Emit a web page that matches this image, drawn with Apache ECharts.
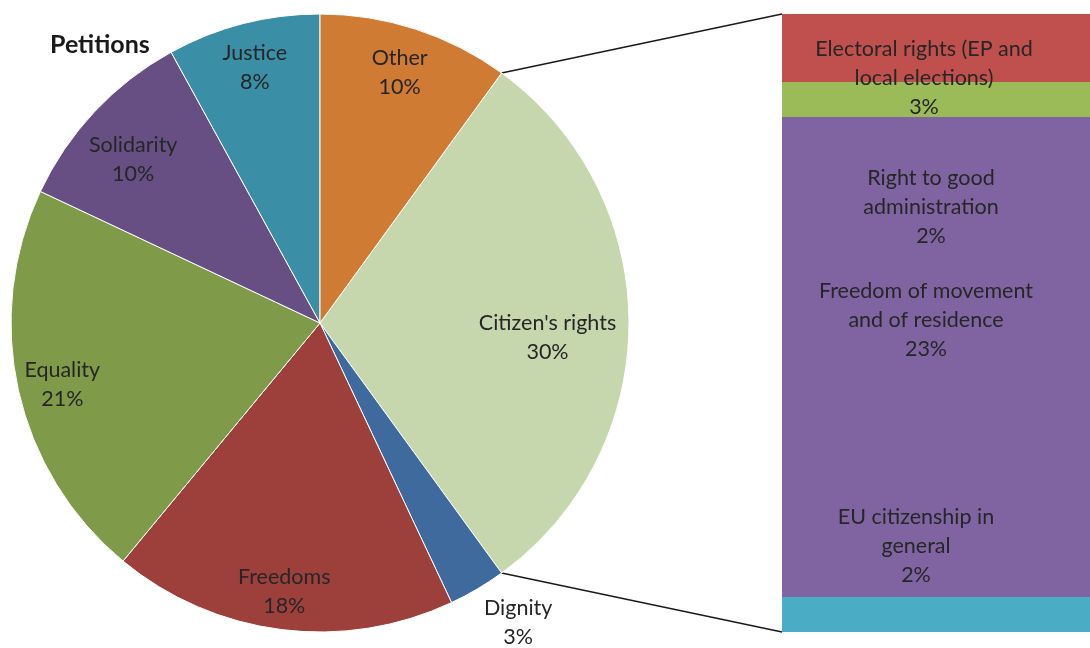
<!DOCTYPE html>
<html>
<head>
<meta charset="utf-8">
<script src="https://cdn.jsdelivr.net/npm/echarts@6/dist/echarts.min.js"></script>
<style>
html,body{margin:0;padding:0;background:#fff;}
#chart{width:1090px;height:648px;}
</style>
</head>
<body>
<div id="chart"></div>
<script>
// ---- data ----
var pieNames = ["Citizen's rights", "Dignity", "Freedoms", "Equality", "Solidarity", "Justice", "Other"];
var pieValues = [30, 3, 18, 21, 10, 8, 10];
var pieColors = ["#C6D7AD", "#3E6A9E", "#9D403C", "#7F9A48", "#674F84", "#3A8EA5", "#CF7B34"];

var barNames = ["Electoral rights (EP and\nlocal elections)", "Right to good\nadministration", "Freedom of movement\nand of residence", "EU citizenship in\ngeneral"];
var barValues = [3.3, 1.7, 23.3, 1.7];
var barColors = ["#C0504D", "#9BBB59", "#8064A2", "#4BACC6"];

// label placement (style only)
var pieLabelOffsets = [[70, 15], [118, 164], [-16, 112], [-104, 27], [-72, -56], [-26, -103], [31, -101]];
var barLabelOffsets = [[-12, 30], [-5, 108], [-10, -37], [-20, -68]];

var FONT = "Lato, 'Open Sans', sans-serif";
var FS = 21.5;
var chart = echarts.init(document.getElementById('chart'), null, {renderer: 'canvas'});

var series = [{
  type: 'pie',
  center: [320, 323],
  radius: 309,
  startAngle: 54,
  clockwise: true,
  avoidLabelOverlap: false,
  animation: false,
  itemStyle: {borderColor: '#ffffff', borderWidth: 1},
  label: {
    show: true, position: 'inside', color: '#262626', fontFamily: FONT, fontSize: FS,
    lineHeight: 29, align: 'center',
    formatter: function (p) { return p.name + '\n' + p.value + '%'; }
  },
  labelLine: {show: false},
  emphasis: {disabled: true},
  data: pieNames.map(function (n, i) {
    return {name: n, value: pieValues[i], itemStyle: {color: pieColors[i]}, label: {offset: pieLabelOffsets[i]}};
  })
}];

barNames.forEach(function (n, i) {
  series.push({
    type: 'bar',
    name: n,
    stack: 'cit',
    barWidth: '100%',
    animation: false,
    itemStyle: {color: barColors[i]},
    label: {
      show: true, position: 'inside', color: '#262626', fontFamily: FONT, fontSize: FS,
      lineHeight: 29, align: 'center', offset: barLabelOffsets[i],
      formatter: function (p) { return p.seriesName + '\n' + Math.round(p.value) + '%'; }
    },
    emphasis: {disabled: true},
    data: [barValues[i]]
  });
});

chart.setOption({
  backgroundColor: '#ffffff',
  animation: false,
  title: {
    text: 'Petitions', left: 45, top: 27,
    textStyle: {fontFamily: FONT, fontSize: 25, fontWeight: 'bold', color: '#1a1a1a'}
  },
  grid: {left: 782, top: 14, width: 308, height: 618},
  xAxis: {type: 'category', data: ['Citizen\'s rights'], show: false},
  yAxis: {type: 'value', min: 0, max: 30, inverse: true, show: false},
  series: series
});

// connector lines from the pie slice edges to the bar corners
(function () {
  var model = chart.getModel();
  var layout = model.getSeriesByIndex(0).getData().getItemLayout(0);
  var rect = model.getComponent('grid', 0).coordinateSystem.getRect();
  var p1 = [layout.cx + layout.r * Math.cos(layout.startAngle), layout.cy + layout.r * Math.sin(layout.startAngle)];
  var p2 = [layout.cx + layout.r * Math.cos(layout.endAngle), layout.cy + layout.r * Math.sin(layout.endAngle)];
  chart.setOption({
    graphic: [
      {type: 'line', shape: {x1: p1[0], y1: p1[1], x2: rect.x, y2: rect.y}, style: {stroke: '#1a1a1a', lineWidth: 1.5}},
      {type: 'line', shape: {x1: p2[0], y1: p2[1], x2: rect.x, y2: rect.y + rect.height}, style: {stroke: '#1a1a1a', lineWidth: 1.5}}
    ]
  });
})();
</script>
</body>
</html>
